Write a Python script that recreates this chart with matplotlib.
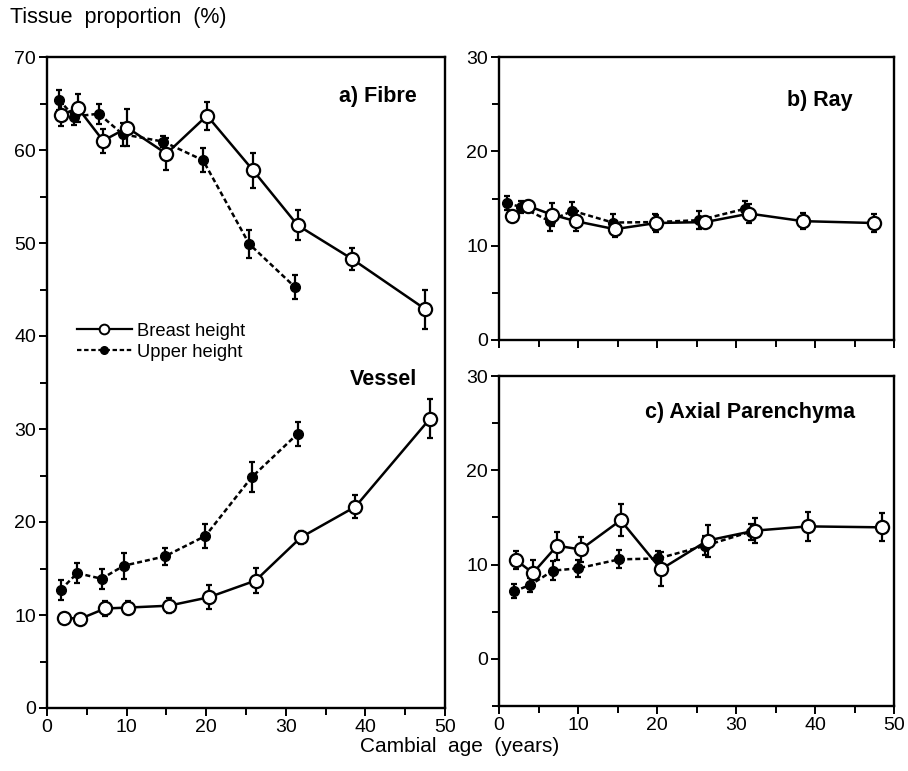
import matplotlib
matplotlib.use("Agg")
import matplotlib.pyplot as plt
from matplotlib.lines import Line2D
from matplotlib.ticker import MultipleLocator

plt.rcParams['font.family'] = ['Liberation Sans', 'DejaVu Sans']

# ---------------- data ----------------
fibre_breast_age = [1.8, 3.9, 7.05, 10.1, 15.0, 20.1, 25.9, 31.5, 38.3, 47.5]
fibre_breast = [63.8, 64.5, 61.0, 62.4, 59.6, 63.7, 57.8, 51.9, 48.3, 42.9]
fibre_breast_err = [1.2, 1.5, 1.3, 2.0, 1.7, 1.5, 1.9, 1.6, 1.2, 2.1]
fibre_upper_age = [1.5, 3.4, 6.5, 9.5, 14.6, 19.6, 25.4, 31.1]
fibre_upper = [65.4, 63.6, 63.9, 61.7, 60.9, 58.9, 49.9, 45.3]
fibre_upper_err = [1.1, 0.9, 1.1, 1.25, 0.6, 1.3, 1.5, 1.3]

vessel_breast_age = [2.1, 4.2, 7.3, 10.2, 15.3, 20.3, 26.2, 31.9, 38.75, 48.1]
vessel_breast = [9.7, 9.6, 10.7, 10.8, 11.0, 11.9, 13.7, 18.35, 21.65, 31.1]
vessel_breast_err = [0.5, 0.5, 0.85, 0.7, 0.8, 1.3, 1.35, 0.7, 1.25, 2.1]
vessel_upper_age = [1.7, 3.8, 6.85, 9.65, 14.8, 19.9, 25.7, 31.5]
vessel_upper = [12.7, 14.5, 13.9, 15.3, 16.3, 18.5, 24.8, 29.5]
vessel_upper_err = [1.1, 1.1, 1.1, 1.4, 0.9, 1.3, 1.6, 1.3]

ray_breast_age = [1.6, 3.7, 6.65, 9.7, 14.65, 19.9, 26.1, 31.7, 38.45, 47.5]
ray_breast = [13.1, 14.2, 13.3, 12.6, 11.75, 12.4, 12.5, 13.4, 12.6, 12.4]
ray_breast_err = [0.4, 0.5, 1.2, 1.05, 0.8, 0.9, 0.5, 0.97, 0.85, 1.0]
ray_upper_age = [1.0, 2.8, 6.4, 9.3, 14.4, 19.7, 25.3, 31.1]
ray_upper = [14.5, 14.1, 12.6, 13.7, 12.45, 12.5, 12.7, 13.9]
ray_upper_err = [0.75, 0.6, 1.05, 0.9, 0.9, 0.85, 0.95, 0.8]

axial_breast_age = [2.2, 4.3, 7.35, 10.35, 15.4, 20.5, 26.4, 32.4, 39.1, 48.45]
axial_breast = [10.45, 9.1, 12.0, 11.6, 14.7, 9.5, 12.55, 13.6, 14.05, 13.95]
axial_breast_err = [0.97, 1.4, 1.5, 1.3, 1.7, 1.8, 1.7, 1.3, 1.5, 1.5]
axial_upper_age = [1.86, 3.98, 6.85, 10.0, 15.2, 20.15, 26.1, 31.9]
axial_upper = [7.15, 7.85, 9.36, 9.6, 10.55, 10.65, 12.0, 13.5]
axial_upper_err = [0.74, 0.74, 0.97, 0.9, 0.95, 0.8, 1.0, 0.85]

x_ticks = [0, 10, 20, 30, 40, 50]
series_labels = ["Breast height", "Upper height"]
panel_titles = ["a) Fibre", "Vessel", "b) Ray", "c) Axial Parenchyma"]

# ---------------- figure ----------------
W, H = 908, 771
fig = plt.figure(figsize=(W / 100, H / 100), dpi=100)

def px_axes(x0, x1, ytop, ybot):
    return fig.add_axes([x0 / W, 1 - ybot / H, (x1 - x0) / W, (ybot - ytop) / H])

axL = px_axes(47, 445, 57, 708)
axB = px_axes(499, 894, 57, 340)
axC = px_axes(499, 894, 376, 706)

def breast(ax, x, y, e):
    ax.errorbar(x, y, yerr=e, fmt='-', color='black', lw=1.8, elinewidth=1.6,
                capsize=2.2, capthick=1.6, zorder=3)
    ax.plot(x, y, 'o', ms=9.5, mfc='white', mec='black', mew=1.6, zorder=5)

def upper(ax, x, y, e):
    ax.errorbar(x, y, yerr=e, fmt='--', color='black', lw=1.8, elinewidth=1.6,
                capsize=2.2, capthick=1.6, dashes=(2.0, 1.2), zorder=2)
    ax.plot(x, y, 'o', ms=7, mfc='black', mec='black', zorder=4)

def style(ax, ylim, yticks, show_xlabels=True):
    ax.set_xlim(0, 50)
    ax.set_ylim(*ylim)
    ax.set_xticks(x_ticks)
    ax.xaxis.set_minor_locator(MultipleLocator(5))
    ax.set_yticks(yticks)
    ax.yaxis.set_minor_locator(MultipleLocator(5))
    ax.tick_params(which='both', direction='out', width=1.4, color='black',
                   labelsize=14, pad=2)
    ax.tick_params(which='major', length=6)
    ax.tick_params(which='minor', length=5)
    if not show_xlabels:
        ax.set_xticklabels([])
    for sp in ax.spines.values():
        sp.set_linewidth(1.7)

# Left panel: fibre + vessel
breast(axL, fibre_breast_age, fibre_breast, fibre_breast_err)
upper(axL, fibre_upper_age, fibre_upper, fibre_upper_err)
breast(axL, vessel_breast_age, vessel_breast, vessel_breast_err)
upper(axL, vessel_upper_age, vessel_upper, vessel_upper_err)
style(axL, (0, 70), [0, 10, 20, 30, 40, 50, 60, 70])
axL.text(0.93, 0.94, panel_titles[0], transform=axL.transAxes, ha='right',
         va='center', fontsize=15.5, fontweight='bold')
axL.text(0.93, 0.505, panel_titles[1], transform=axL.transAxes, ha='right',
         va='center', fontsize=15.5, fontweight='bold')

handles = [
    Line2D([], [], color='black', lw=1.6, marker='o', ms=7, mfc='white',
           mec='black', mew=1.4),
    Line2D([], [], color='black', lw=1.6, ls='--', dashes=(2.0, 1.2),
           marker='o', ms=5.5, mfc='black', mec='black'),
]
axL.legend(handles, series_labels, loc='upper left',
           bbox_to_anchor=(0.075, 0.592), frameon=False, fontsize=13.2,
           handlelength=3.0, handletextpad=0.3, labelspacing=0.22,
           borderpad=0, borderaxespad=0)

# Ray
breast(axB, ray_breast_age, ray_breast, ray_breast_err)
upper(axB, ray_upper_age, ray_upper, ray_upper_err)
style(axB, (0, 30), [0, 10, 20, 30], show_xlabels=False)
axB.text(0.896, 0.848, panel_titles[2], transform=axB.transAxes, ha='right',
         va='center', fontsize=15.5, fontweight='bold')

# Axial parenchyma
breast(axC, axial_breast_age, axial_breast, axial_breast_err)
upper(axC, axial_upper_age, axial_upper, axial_upper_err)
style(axC, (-5, 30), [0, 10, 20, 30])
axC.text(0.901, 0.89, panel_titles[3], transform=axC.transAxes, ha='right',
         va='center', fontsize=15.5, fontweight='bold')

fig.text(10 / W, 1 - 18 / H, "Tissue  proportion  (%)", ha='left', va='center',
         fontsize=15.5)
fig.text(460 / W, 1 - 746 / H, "Cambial  age  (years)", ha='center',
         va='center', fontsize=15)

fig.savefig("out.png", dpi=100)
